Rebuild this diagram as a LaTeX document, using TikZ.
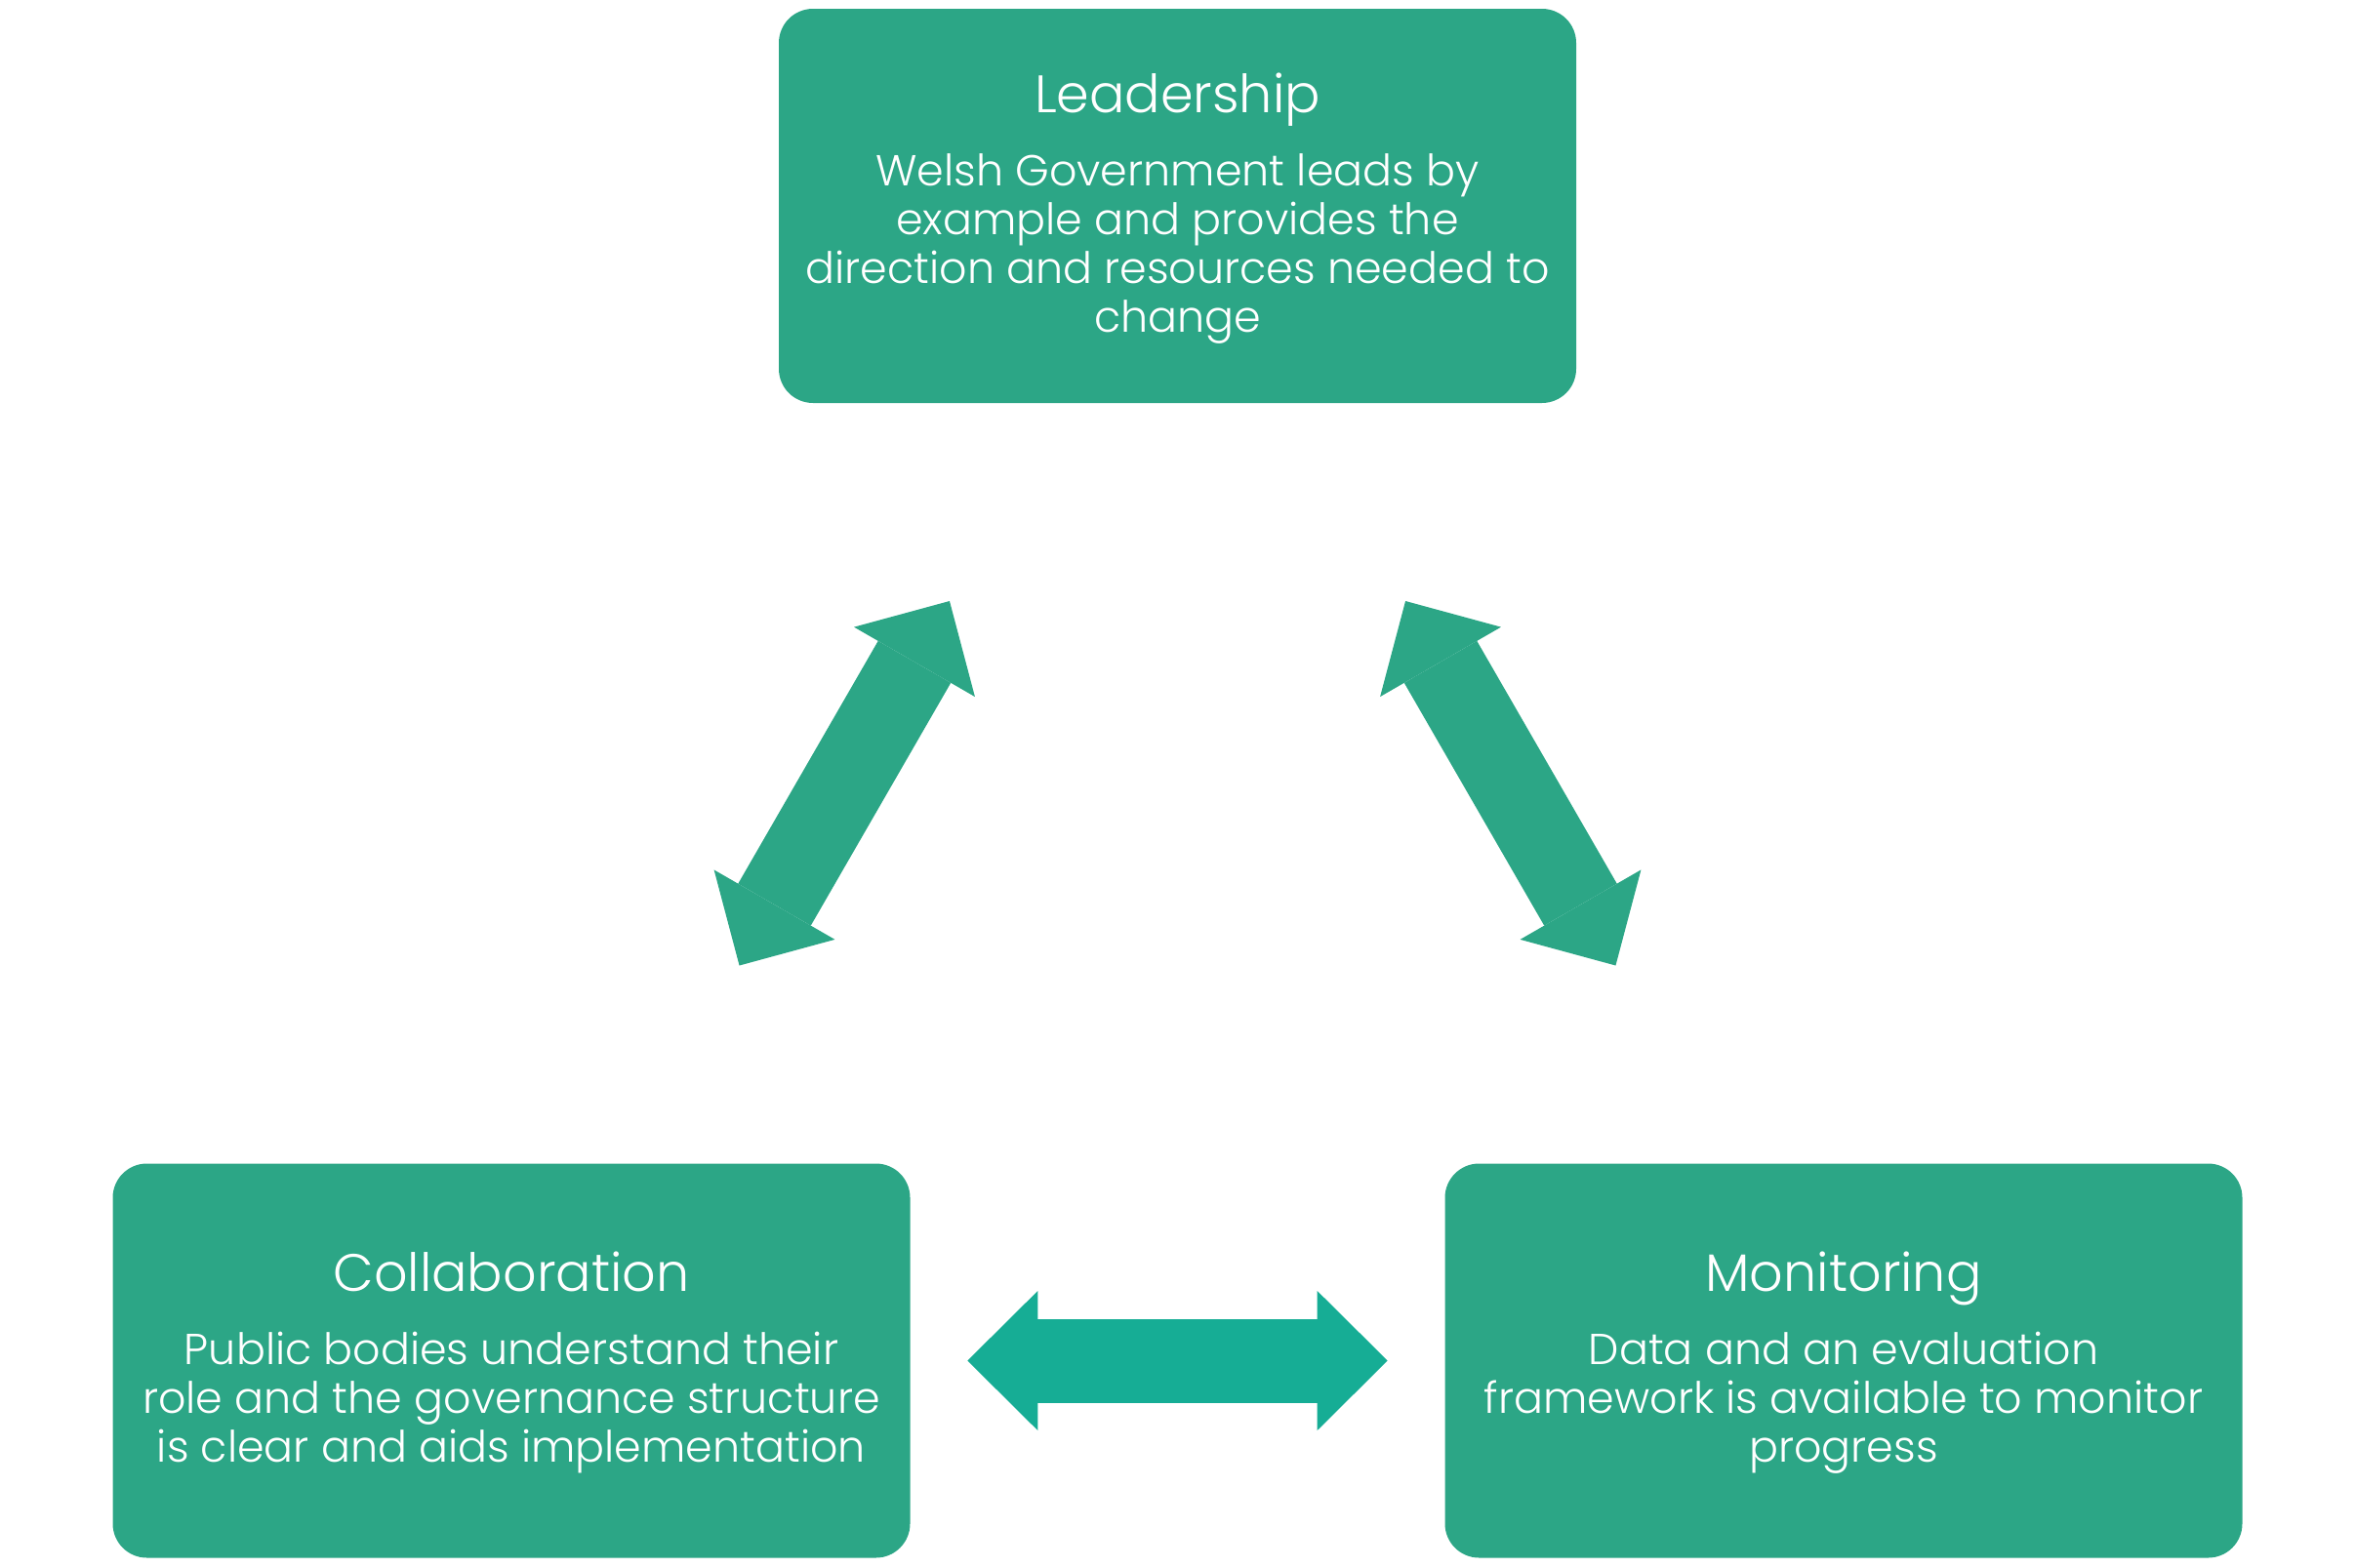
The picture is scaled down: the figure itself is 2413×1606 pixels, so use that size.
\documentclass[tikz,border=0pt]{standalone}
\usepackage{fontspec}
\setmainfont{Poppins Light}
\usetikzlibrary{calc,arrows.meta}

\definecolor{boxgreen}{HTML}{2CA686}
\definecolor{arrowteal}{HTML}{16AD95}

\tikzset{
  box/.style={fill=boxgreen, rounded corners=17.5pt, minimum width=408.5pt,
    minimum height=202pt, inner sep=0pt},
  title/.style={text=white, font=\fontsize{27}{32}\selectfont, inner sep=0pt, anchor=base},
  body/.style={text=white, align=center, font=\fontsize{22.2}{24.9}\selectfont,
    inner sep=0pt, anchor=base},
  bigtip/.tip={Triangle[length=36pt, width=71.5pt, line width=0pt]},
  bigarrow/.style={line width=43pt, bigtip-bigtip},
}

\begin{document}
\begin{tikzpicture}[x=0.5pt, y=-0.5pt]
  \useasboundingbox (0,0) rectangle (2413,1606);

  % 三个框
  \node[box] (lead) at (1206.5,211) {};
  \node[box] (coll) at (524,1394.5) {};
  \node[box] (moni) at (1889,1394.5) {};

  % 文字（body 的 base 在最后一行）
  \node[title] (leadT) at (1206.5,115) {Leadership};
  \node[body]  (leadB) at (1206.5,340) {Welsh Government leads by\\example and provides the\\direction and resources needed to\\change};
  \node[title] (collT) at (524,1323.3) {Collaboration};
  \node[body]  (collB) at (524,1498) {Public bodies understand their\\role and the governance structure\\is clear and aids implementation};
  \node[title] (moniT) at (1889,1323.3) {Monitoring};
  \node[body]  (moniB) at (1889,1498) {Data and an evaluation\\framework is available to monitor\\progress};

  % 箭头端点
  \coordinate (lc) at ($(lead)!0.5!(coll)$);
  \coordinate (lm) at ($(lead)!0.5!(moni)$);
  \coordinate (cm) at ($(coll)!0.5!(moni)$);
  \coordinate (lc1) at ($(lc)!107.8pt!(lead)$);
  \coordinate (lc2) at ($(lc)!107.8pt!(coll)$);
  \coordinate (lm1) at ($(lm)!107.8pt!(lead)$);
  \coordinate (lm2) at ($(lm)!107.8pt!(moni)$);
  \coordinate (cm1) at ($(cm)!107.6pt!(coll)$);
  \coordinate (cm2) at ($(cm)!107.6pt!(moni)$);

  % 双向箭头
  \draw[bigarrow, boxgreen] (lc1) -- (lc2);
  \draw[bigarrow, boxgreen] (lm1) -- (lm2);
  \draw[bigarrow, arrowteal] (cm1) -- (cm2);
\end{tikzpicture}
\end{document}
